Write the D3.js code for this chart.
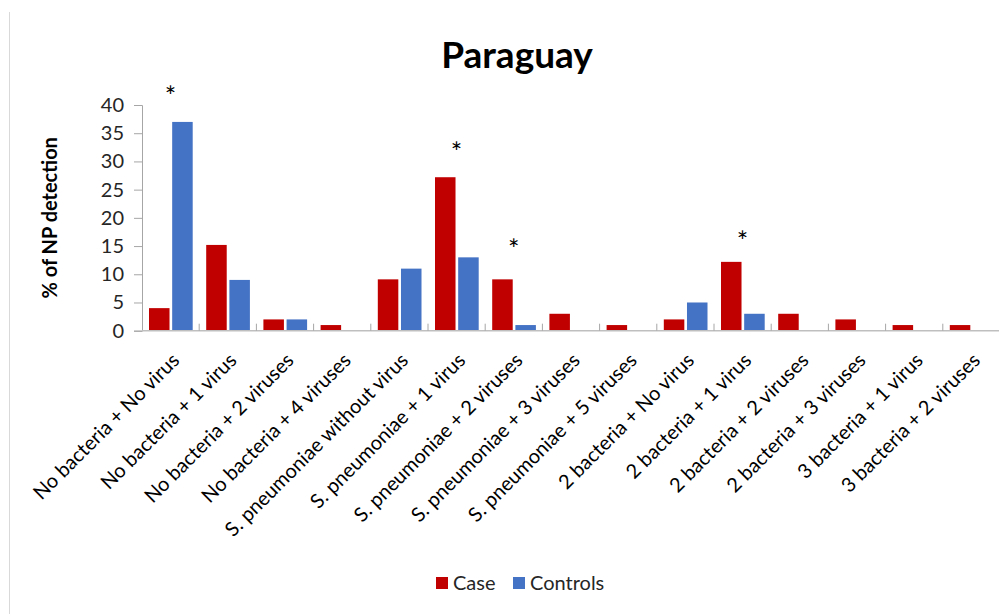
<!DOCTYPE html>
<html>
<head>
<meta charset="utf-8">
<script src="https://cdn.jsdelivr.net/npm/d3@7"></script>
<style>
  html, body { margin: 0; padding: 0; background: #fff; }
  svg { display: block; }
  text { font-family: Lato, "Open Sans", sans-serif; }
</style>
</head>
<body>
<svg id="chart" width="999" height="614"></svg>
<script>
// ---- data ----
const categories = [
  "No bacteria + No virus",
  "No bacteria + 1 virus",
  "No bacteria + 2 viruses",
  "No bacteria + 4 viruses",
  "S. pneumoniae without virus",
  "S. pneumoniae + 1 virus",
  "S. pneumoniae + 2 viruses",
  "S. pneumoniae + 3 viruses",
  "S. pneumoniae + 5 viruses",
  "2 bacteria + No virus",
  "2 bacteria + 1 virus",
  "2 bacteria + 2 viruses",
  "2 bacteria + 3 viruses",
  "3 bacteria + 1 virus",
  "3 bacteria + 2 viruses"
];
const seriesNames = ["Case", "Controls"];
const caseValues    = [4, 15.2, 2, 1, 9.1, 27.2, 9.1, 3, 1, 2, 12.2, 3, 2, 1, 1];
const controlValues = [37, 9, 2, 0, 11, 13, 1, 0, 0, 5, 3, 0, 0, 0, 0];
const yTicks = [0, 5, 10, 15, 20, 25, 30, 35, 40];
// significance markers: category and height (in % units) of the asterisk
const starCategories = ["No bacteria + No virus", "S. pneumoniae + 1 virus", "S. pneumoniae + 2 viruses", "2 bacteria + 1 virus"];
const starLevels = [42.3, 32.4, 15.2, 16.6];

const title = "Paraguay";
const yLabel = "% of NP detection";
const colors = { "Case": "#C00000", "Controls": "#4472C4" };

// ---- layout ----
const svg = d3.select("#chart");
const pLeft = 142, pRight = 1000, pTop = 105, pBottom = 330.7;

const x = d3.scaleBand().domain(categories).range([pLeft, pRight]).paddingInner(0).paddingOuter(0);
const x1 = d3.scaleBand().domain(seriesNames).range([7, 50.7]).paddingInner(0.115).paddingOuter(0);
const y = d3.scaleLinear().domain([0, 40]).range([pBottom, pTop]);

// left frame line
svg.append("line").attr("x1", 9.5).attr("x2", 9.5).attr("y1", 12).attr("y2", 614)
  .attr("stroke", "#d9d9d9").attr("stroke-width", 1);

// title
svg.append("text").attr("x", 517).attr("y", 68).attr("text-anchor", "middle")
  .attr("font-size", 37).attr("font-weight", "bold").attr("fill", "#000").text(title);

// y axis
const yAxis = d3.axisLeft(y).tickValues(yTicks).tickSize(8).tickPadding(10).tickFormat(d3.format("d"));
const gy = svg.append("g").attr("transform", `translate(${pLeft},0)`).call(yAxis);
gy.select(".domain").attr("stroke", "#a6a6a6");
gy.selectAll(".tick line").attr("stroke", "#a6a6a6");
gy.selectAll(".tick text").attr("font-size", 20).attr("fill", "#262626")
  .attr("font-family", "Lato, 'Open Sans', sans-serif");

// y label
svg.append("text").attr("transform", `translate(57,${(pTop + pBottom) / 2}) rotate(-90)`)
  .attr("text-anchor", "middle").attr("font-size", 20).attr("font-weight", "bold")
  .attr("fill", "#000").text(yLabel);

// bars
const rows = categories.map((c, i) => ({ cat: c, vals: [caseValues[i], controlValues[i]] }));
const groups = svg.append("g").selectAll("g").data(rows).join("g")
  .attr("transform", d => `translate(${x(d.cat)},0)`);
groups.selectAll("rect")
  .data(d => d.vals.map((v, j) => ({ key: seriesNames[j], v })))
  .join("rect")
  .attr("x", d => x1(d.key))
  .attr("width", x1.bandwidth())
  .attr("y", d => y(d.v))
  .attr("height", d => y(0) - y(d.v))
  .attr("fill", d => colors[d.key]);

// x axis
const xAxisLine = svg.append("g");
xAxisLine.append("line").attr("x1", pLeft).attr("x2", 999).attr("y1", pBottom).attr("y2", pBottom)
  .attr("stroke", "#bfbfbf").attr("stroke-width", 1.5);
xAxisLine.selectAll("line.tk").data(categories.slice(1)).join("line").attr("class", "tk")
  .attr("x1", d => x(d)).attr("x2", d => x(d))
  .attr("y1", pBottom - 7).attr("y2", pBottom)
  .attr("stroke", "#a6a6a6").attr("stroke-width", 1);

// x labels
svg.append("g").selectAll("text").data(categories).join("text")
  .attr("transform", d => `translate(${x(d) + x.bandwidth() / 2 + 10},${pBottom + 31}) rotate(-45)`)
  .attr("text-anchor", "end").attr("font-size", 20).attr("fill", "#000")
  .text(d => d);

// asterisks
svg.append("g").selectAll("text").data(starCategories.map((c, i) => ({ c, v: starLevels[i] }))).join("text")
  .attr("x", d => x(d.c) + x.bandwidth() / 2)
  .attr("y", d => y(d.v))
  .attr("dy", "0.52em")
  .attr("text-anchor", "middle").attr("font-size", 27).attr("fill", "#000")
  .text("*");

// legend
const legend = svg.append("g").attr("transform", "translate(436,577)");
const li = legend.selectAll("g").data(seriesNames).join("g")
  .attr("transform", (d, i) => `translate(${i * 77},0)`);
li.append("rect").attr("width", 12).attr("height", 12).attr("fill", d => colors[d]);
li.append("text").attr("x", 17).attr("y", 12.5).attr("font-size", 20).attr("fill", "#262626").text(d => d);
</script>
</body>
</html>
